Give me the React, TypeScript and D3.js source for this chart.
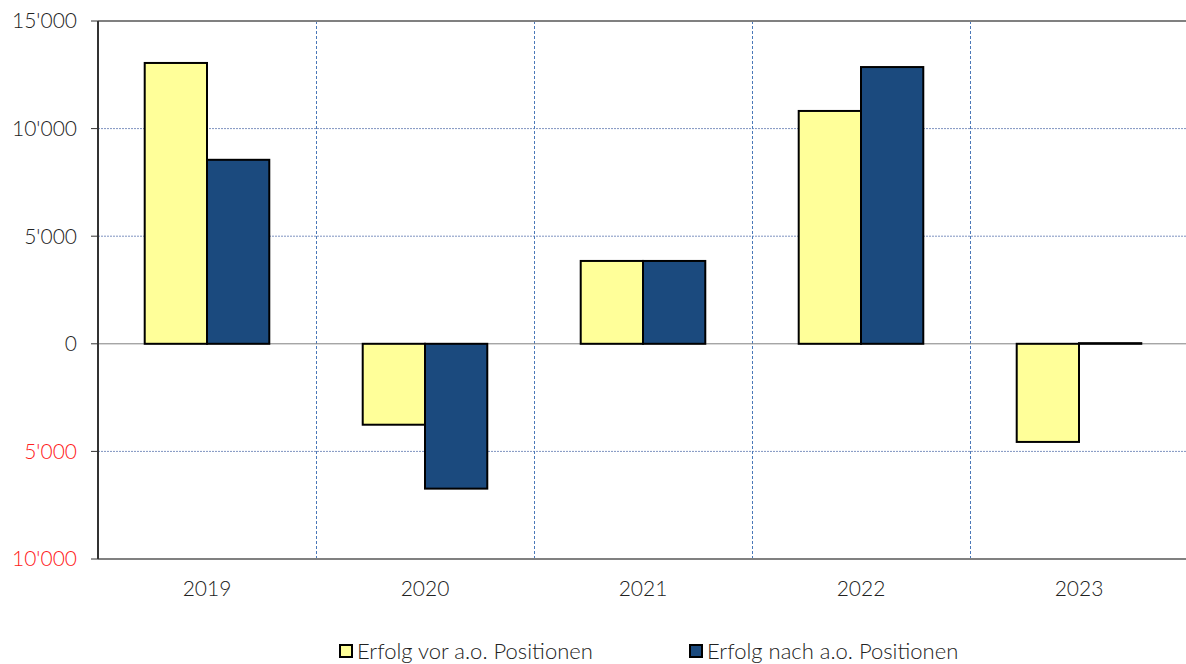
import React, { useEffect, useRef } from "react";
import * as d3 from "d3";

const years = ["2019", "2020", "2021", "2022", "2023"];
const vorValues = [13050, -3760, 3850, 10820, -4560];
const nachValues = [8550, -6730, 3850, 12860, 30];
const yTicks = [15000, 10000, 5000, 0, -5000, -10000];
const seriesNames = ["Erfolg vor a.o. Positionen", "Erfolg nach a.o. Positionen"];
const seriesColors = ["#ffff99", "#1b4a7e"];

export default function App() {
  const svgRef = useRef<SVGSVGElement>(null);

  useEffect(() => {
    if (!svgRef.current) return;
    const width = 1186;
    const height = 664;
    const margin = { top: 21, right: -2, bottom: 105, left: 98 };

    const svg = d3.select(svgRef.current);
    svg.selectAll("*").remove();

    const x = d3.scaleBand<string>()
      .domain(years)
      .range([margin.left, width - margin.right]);

    const inner = d3.scaleBand<number>()
      .domain([0, 1])
      .range([0, x.bandwidth()])
      .paddingOuter(0.75)
      .paddingInner(0);

    const y = d3.scaleLinear()
      .domain([-10000, 15000])
      .range([height - margin.bottom, margin.top]);

    const font = "Lato, 'Open Sans', sans-serif";
    const fmt = (v: number) => {
      const a = Math.abs(v);
      return a >= 1000 ? `${Math.floor(a / 1000)}'${String(a % 1000).padStart(3, "0")}` : `${a}`;
    };

    // dotted grid lines
    svg.append("g")
      .selectAll("line")
      .data([10000, 5000, -5000])
      .join("line")
      .attr("x1", margin.left)
      .attr("x2", width)
      .attr("y1", d => y(d))
      .attr("y2", d => y(d))
      .attr("stroke", "#7f93c0")
      .attr("stroke-width", 1)
      .attr("stroke-dasharray", "2,1");

    // vertical separators between categories
    svg.append("g")
      .selectAll("line")
      .data(years.slice(1))
      .join("line")
      .attr("x1", d => Math.round(x(d)!) + 0.5)
      .attr("x2", d => Math.round(x(d)!) + 0.5)
      .attr("y1", y(15000))
      .attr("y2", y(-10000))
      .attr("stroke", "#4a78b8")
      .attr("stroke-width", 1)
      .attr("stroke-dasharray", "3,2");

    // top border
    svg.append("line")
      .attr("x1", margin.left).attr("x2", width)
      .attr("y1", y(15000)).attr("y2", y(15000))
      .attr("stroke", "#808080").attr("stroke-width", 2);

    // bottom axis line
    svg.append("line")
      .attr("x1", margin.left).attr("x2", width)
      .attr("y1", y(-10000)).attr("y2", y(-10000))
      .attr("stroke", "#808080").attr("stroke-width", 2);

    // zero line
    svg.append("line")
      .attr("x1", margin.left).attr("x2", width)
      .attr("y1", y(0)).attr("y2", y(0))
      .attr("stroke", "#808080").attr("stroke-width", 1);

    // bars
    const series = [vorValues, nachValues];
    series.forEach((vals, si) => {
      svg.append("g")
        .selectAll("rect")
        .data(vals)
        .join("rect")
        .attr("x", (_, i) => x(years[i])! + inner(si)!)
        .attr("width", inner.bandwidth())
        .attr("y", d => y(Math.max(0, d)))
        .attr("height", d => Math.abs(y(d) - y(0)))
        .attr("fill", seriesColors[si])
        .attr("stroke", "#000")
        .attr("stroke-width", 2);
    });

    // y axis
    svg.append("line")
      .attr("x1", margin.left).attr("x2", margin.left)
      .attr("y1", y(15000)).attr("y2", y(-10000))
      .attr("stroke", "#333").attr("stroke-width", 2);

    const yAxisG = svg.append("g");
    yAxisG.selectAll("line")
      .data(yTicks)
      .join("line")
      .attr("x1", margin.left - 7)
      .attr("x2", margin.left)
      .attr("y1", d => y(d))
      .attr("y2", d => y(d))
      .attr("stroke", "#333")
      .attr("stroke-width", 1);
    yAxisG.selectAll("text")
      .data(yTicks)
      .join("text")
      .attr("x", margin.left - 21)
      .attr("y", d => y(d))
      .attr("dy", "0.35em")
      .attr("text-anchor", "end")
      .attr("font-family", font)
      .attr("font-weight", 300)
      .attr("font-size", 21)
      .attr("fill", d => (d < 0 ? "#ff2020" : "#222"))
      .text(d => fmt(d));

    // x labels
    svg.append("g")
      .selectAll("text")
      .data(years)
      .join("text")
      .attr("x", d => x(d)! + x.bandwidth() / 2)
      .attr("y", y(-10000) + 37)
      .attr("text-anchor", "middle")
      .attr("font-family", font)
      .attr("font-weight", 300)
      .attr("font-size", 21)
      .attr("fill", "#222")
      .text(d => d);

    // legend
    const legendX = [340, 690];
    const legend = svg.append("g");
    seriesNames.forEach((name, i) => {
      legend.append("rect")
        .attr("x", legendX[i])
        .attr("y", 645)
        .attr("width", 12)
        .attr("height", 12)
        .attr("fill", seriesColors[i])
        .attr("stroke", "#000")
        .attr("stroke-width", 2);
      legend.append("text")
        .attr("x", legendX[i] + 17)
        .attr("y", 659)
        .attr("font-family", font)
        .attr("font-weight", 300)
        .attr("font-size", 22)
        .attr("fill", "#222")
        .text(name);
    });
  }, []);

  return (
    <svg
      ref={svgRef}
      width={1186}
      height={664}
      style={{ position: "absolute", left: 0, top: 0, background: "#fff" }}
    />
  );
}
